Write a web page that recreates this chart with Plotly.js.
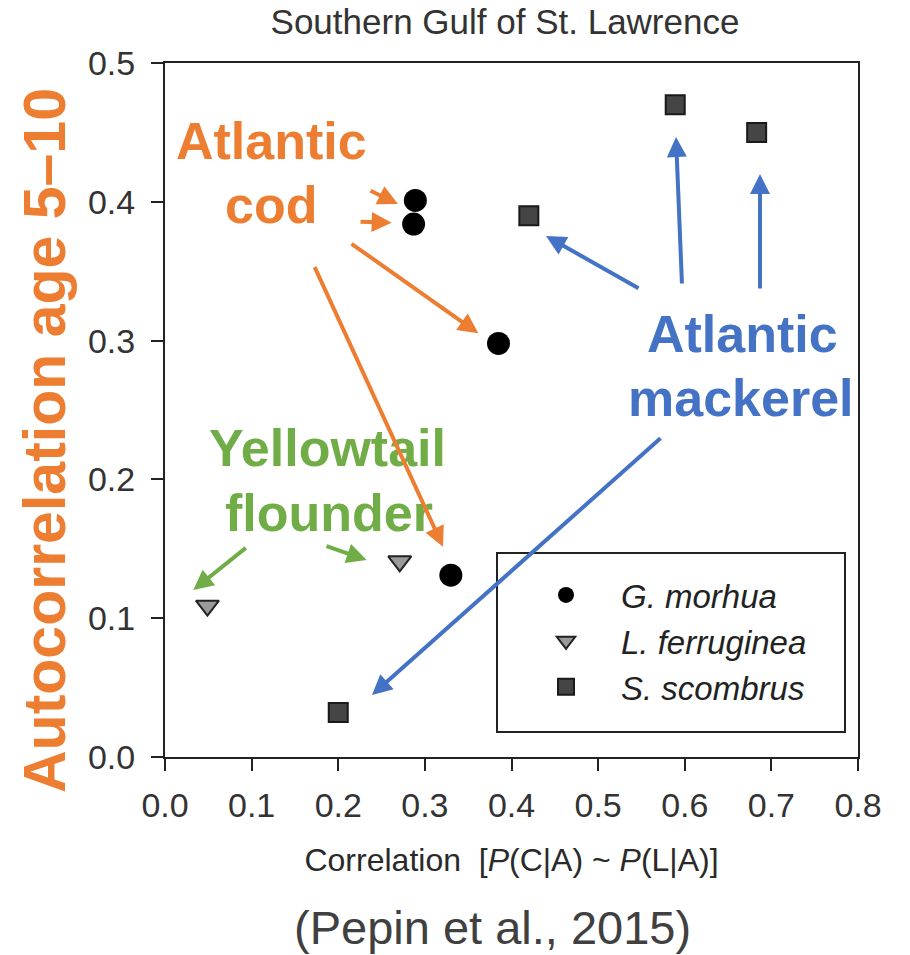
<!DOCTYPE html>
<html>
<head>
<meta charset="utf-8">
<script src="https://cdn.plot.ly/plotly-3.0.1.min.js"></script>
<style>html,body{margin:0;padding:0;background:#fff;}#chart{width:910px;height:955px;}</style>
</head>
<body>
<div id="chart"></div>
<script>
// ---- data ----
const seriesNames = ["G. morhua", "L. ferruginea", "S. scombrus"];
const codX = [0.289, 0.287, 0.385, 0.330];
const codY = [0.401, 0.384, 0.298, 0.131];
const flounderX = [0.049, 0.271];
const flounderY = [0.109, 0.141];
const mackerelX = [0.200, 0.420, 0.589, 0.683];
const mackerelY = [0.032, 0.390, 0.470, 0.450];
const xTickVals = [0, 0.1, 0.2, 0.3, 0.4, 0.5, 0.6, 0.7, 0.8];
const yTickVals = [0, 0.1, 0.2, 0.3, 0.4, 0.5];

// ---- layout geometry ----
const W = 910, H = 955;
const M = {l: 165, r: 52, t: 63, b: 198};
const PW = W - M.l - M.r, PH = H - M.t - M.b;
const px = p => (p - M.l) / PW;          // pixel x -> paper x
const py = p => (H - M.b - p) / PH;      // pixel y -> paper y
const FONT = "Liberation Sans, Arial, Helvetica, sans-serif";

const traces = [
  {x: codX, y: codY, name: seriesNames[0], type: "scatter", mode: "markers",
   marker: {symbol: "circle", size: 23, color: "#000000", line: {width: 0}}},
  {x: flounderX, y: flounderY, name: seriesNames[1], type: "scatter", mode: "markers",
   marker: {symbol: "triangle-down", size: 20, color: "#9a9a9a", line: {width: 2, color: "#222"}}},
  {x: mackerelX, y: mackerelY, name: seriesNames[2], type: "scatter", mode: "markers",
   marker: {symbol: "square", size: 19, color: "#454545", line: {width: 2, color: "#1a1a1a"}}}
];

const ORANGE = "#ED7D31", GREEN = "#70AD47", BLUE = "#4472C4";

function label(text, cx, baseline, color, size) {
  return {text: text, xref: "paper", yref: "paper", x: px(cx), y: py(baseline - 0.33 * size),
          xanchor: "center", yanchor: "middle", showarrow: false,
          font: {family: FONT, size: size, color: color, weight: "bold"}};
}
function arrow(tx, ty, hx, hy, color) {
  return {text: "", xref: "paper", yref: "paper", axref: "paper", ayref: "paper",
          x: px(hx), y: py(hy), ax: px(tx), ay: py(ty), showarrow: true,
          arrowhead: 2, arrowsize: 1.0, arrowwidth: 4, arrowcolor: color, standoff: 0, startstandoff: 0};
}

const annotations = [
  label("Atlantic", 271.5, 158, ORANGE, 52),
  label("cod", 271, 222, ORANGE, 52),
  label("Yellowtail", 327, 465, GREEN, 52),
  label("flounder", 328.5, 530, GREEN, 52),
  label("Atlantic", 742, 351, BLUE, 52),
  label("mackerel", 741, 415, BLUE, 52),
  arrow(369, 190, 398, 204, ORANGE),
  arrow(359, 221.7, 391.7, 222.7, ORANGE),
  arrow(350, 242.7, 478.3, 333.3, ORANGE),
  arrow(314, 265.7, 443, 546.7, ORANGE),
  arrow(247.3, 546.7, 193.3, 590, GREEN),
  arrow(325, 545.7, 366.7, 560, GREEN),
  arrow(640, 289, 546, 236, BLUE),
  arrow(682, 285, 676, 137, BLUE),
  arrow(760, 290, 760, 174, BLUE),
  arrow(662, 437, 372, 695, BLUE),
  {text: "Autocorrelation age 5\u201310", xref: "paper", yref: "paper", x: px(45), y: py(441),
   xanchor: "center", yanchor: "middle", textangle: -90, showarrow: false,
   font: {family: FONT, size: 59, color: ORANGE, weight: "bold"}},
  {text: "(Pepin et al., 2015)", xref: "paper", yref: "paper", x: px(492), y: py(927),
   xanchor: "center", yanchor: "middle", showarrow: false,
   font: {family: FONT, size: 47, color: "#404040"}}
];

const layout = {
  width: W, height: H, margin: M,
  paper_bgcolor: "#ffffff", plot_bgcolor: "#ffffff",
  title: {text: "Southern Gulf of St. Lawrence", font: {family: FONT, size: 35, color: "#333"},
          x: 505 / W, xref: "container", xanchor: "center", y: 1 - 22 / H, yref: "container", yanchor: "middle"},
  xaxis: {range: [0, 0.8], tickvals: xTickVals, tickformat: ".1f", showgrid: false, zeroline: false,
          showline: true, mirror: true, linecolor: "#222", linewidth: 2,
          ticks: "outside", ticklen: 12, tickwidth: 2, tickcolor: "#222", ticklabelstandoff: 5,
          tickfont: {family: FONT, size: 34, color: "#333"},
          title: {text: "Correlation\u00a0\u00a0[<i>P</i>(C|A) ~ <i>P</i>(L|A)]", standoff: 26,
                  font: {family: FONT, size: 32, color: "#2a2a2a"}}},
  yaxis: {range: [0, 0.5], tickvals: yTickVals, tickformat: ".1f", showgrid: false, zeroline: false,
          showline: true, mirror: true, linecolor: "#222", linewidth: 2,
          ticks: "outside", ticklen: 12, tickwidth: 2, tickcolor: "#222", ticklabelstandoff: 9,
          tickfont: {family: FONT, size: 34, color: "#333"}},
  showlegend: true,
  legend: {x: px(511), y: py(567), xanchor: "left", yanchor: "top", bgcolor: "rgba(0,0,0,0)",
           borderwidth: 0, itemwidth: 100, tracegroupgap: 0,
           font: {family: FONT, size: 33, color: "#222", style: "italic"}},
  shapes: [
    {type: "rect", xref: "paper", yref: "paper", x0: px(497), x1: px(845), y0: py(732), y1: py(553),
     line: {color: "#222", width: 2}, fillcolor: "rgba(0,0,0,0)"}
  ],
  annotations: annotations
};

Plotly.newPlot("chart", traces, layout, {displayModeBar: false, staticPlot: true});
</script>
</body>
</html>
